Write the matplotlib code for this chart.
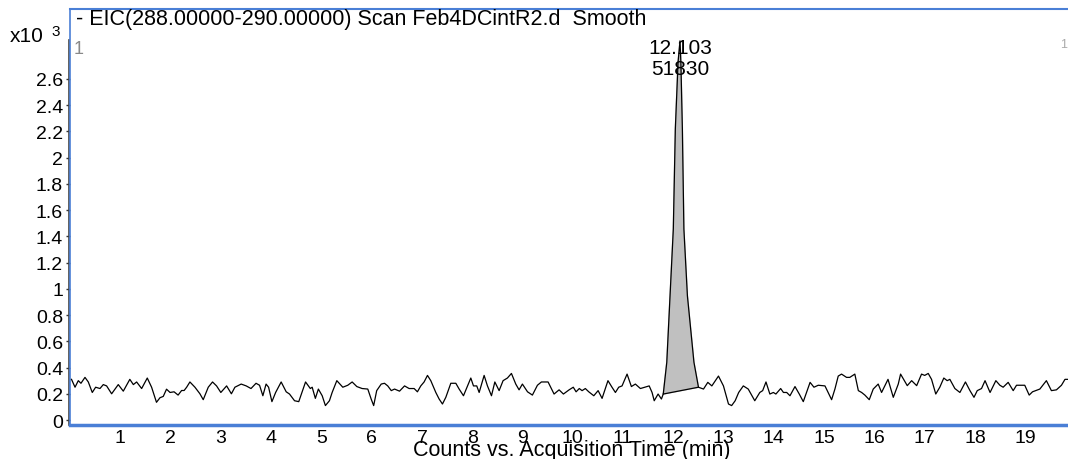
import matplotlib.pyplot as plt
import matplotlib.transforms as mtransforms

plt.rcParams["font.family"] = ["Liberation Sans", "DejaVu Sans"]

# baseline noise before the peak (minutes, counts x10^3)
left_t = [0.03, 0.10, 0.165, 0.218, 0.298, 0.364, 0.443, 0.51, 0.596, 0.662, 0.728, 0.828,
          0.96, 1.06, 1.19, 1.26, 1.325, 1.425, 1.537, 1.623, 1.72, 1.79, 1.855, 1.92, 1.99,
          2.07, 2.15, 2.22, 2.27, 2.32, 2.385, 2.485, 2.584, 2.65, 2.75, 2.835, 2.915, 3.0,
          3.115, 3.21, 3.28, 3.405, 3.505, 3.60, 3.70, 3.77, 3.836, 3.90, 3.95, 4.016, 4.09,
          4.20, 4.30, 4.366, 4.466, 4.55, 4.685, 4.78, 4.817, 4.88, 4.94, 5.016, 5.08, 5.16,
          5.214, 5.307, 5.426, 5.525, 5.612, 5.705, 5.81, 5.923, 5.99, 6.04, 6.10, 6.19, 6.255,
          6.32, 6.39, 6.455, 6.554, 6.654, 6.745, 6.845, 6.91, 6.977, 7.043, 7.11, 7.176, 7.276,
          7.342, 7.408, 7.475, 7.574, 7.674, 7.74, 7.826, 7.906, 7.972, 8.025, 8.09, 8.138,
          8.237, 8.303, 8.383, 8.45, 8.535, 8.614, 8.70, 8.78, 8.866, 8.932, 8.998, 9.10, 9.197,
          9.297, 9.376, 9.509, 9.628, 9.728, 9.814, 9.927, 10.01, 10.066, 10.13, 10.185, 10.25,
          10.318, 10.418, 10.504, 10.583, 10.70, 10.78, 10.848, 10.914, 10.98, 11.08, 11.166,
          11.245, 11.345, 11.43, 11.52, 11.577, 11.62, 11.697, 11.763, 11.80]
left_v = [0.31, 0.25, 0.30, 0.28, 0.325, 0.29, 0.21, 0.25, 0.24, 0.27, 0.26, 0.20,
          0.27, 0.22, 0.31, 0.27, 0.29, 0.24, 0.32, 0.25, 0.135, 0.17, 0.18, 0.235, 0.21,
          0.215, 0.19, 0.225, 0.225, 0.25, 0.29, 0.25, 0.20, 0.155, 0.25, 0.29, 0.26, 0.21,
          0.26, 0.20, 0.25, 0.274, 0.26, 0.24, 0.28, 0.265, 0.185, 0.274, 0.25, 0.14, 0.21,
          0.29, 0.215, 0.198, 0.147, 0.14, 0.29, 0.24, 0.25, 0.165, 0.236, 0.185, 0.11, 0.147,
          0.21, 0.30, 0.25, 0.265, 0.29, 0.255, 0.24, 0.236, 0.16, 0.11, 0.224, 0.274, 0.28,
          0.26, 0.224, 0.236, 0.22, 0.26, 0.24, 0.24, 0.215, 0.26, 0.29, 0.34, 0.30, 0.21,
          0.16, 0.122, 0.173, 0.28, 0.28, 0.236, 0.185, 0.26, 0.32, 0.26, 0.26, 0.21,
          0.34, 0.26, 0.185, 0.29, 0.224, 0.30, 0.32, 0.355, 0.274, 0.23, 0.274, 0.215, 0.19,
          0.265, 0.29, 0.29, 0.198, 0.23, 0.198, 0.23, 0.25, 0.215, 0.24, 0.224, 0.24,
          0.215, 0.185, 0.224, 0.165, 0.30, 0.25, 0.21, 0.25, 0.26, 0.35, 0.255,
          0.274, 0.24, 0.25, 0.26, 0.21, 0.147, 0.198, 0.16, 0.198]

# integrated peak at 12.103 min
peak_t = [11.80, 11.87, 11.935, 12.0, 12.04, 12.094, 12.133, 12.15, 12.18, 12.21, 12.28, 12.41, 12.50]
peak_v = [0.198, 0.44, 0.947, 1.456, 2.218, 2.726, 2.89, 2.726, 2.218, 1.456, 0.947, 0.44, 0.25]

# baseline noise after the peak
right_t = [12.50, 12.60, 12.686, 12.766, 12.898, 12.997, 13.097, 13.16, 13.23, 13.30, 13.392,
           13.49, 13.62, 13.72, 13.777, 13.843, 13.92, 13.99, 14.04, 14.135, 14.19, 14.255,
           14.32, 14.42, 14.505, 14.585, 14.72, 14.797, 14.883, 15.016, 15.08, 15.148, 15.214,
           15.28, 15.346, 15.445, 15.51, 15.61, 15.68, 15.745, 15.81, 15.897, 15.976, 16.075,
           16.142, 16.27, 16.375, 16.474, 16.52, 16.653, 16.74, 16.84, 16.937, 17.0, 17.07,
           17.136, 17.22, 17.30, 17.38, 17.447, 17.50, 17.60, 17.70, 17.81, 17.90, 17.98,
           18.045, 18.13, 18.20, 18.30, 18.415, 18.495, 18.56, 18.66, 18.76, 18.826, 18.99,
           19.078, 19.144, 19.29, 19.42, 19.52, 19.62, 19.72, 19.79, 19.85]
right_v = [0.25, 0.236, 0.287, 0.26, 0.335, 0.26, 0.122, 0.11, 0.147, 0.21, 0.26,
           0.236, 0.147, 0.21, 0.224, 0.29, 0.198, 0.21, 0.198, 0.24, 0.21, 0.21,
           0.185, 0.255, 0.198, 0.14, 0.287, 0.25, 0.265, 0.26, 0.21, 0.155, 0.236,
           0.335, 0.35, 0.325, 0.325, 0.35, 0.224, 0.21, 0.19, 0.155, 0.236, 0.274,
           0.21, 0.31, 0.173, 0.274, 0.35, 0.262, 0.30, 0.262, 0.35, 0.34, 0.355,
           0.31, 0.198, 0.25, 0.32, 0.30, 0.31, 0.24, 0.21, 0.29, 0.224, 0.173,
           0.224, 0.24, 0.30, 0.21, 0.30, 0.265, 0.25, 0.287, 0.224, 0.265, 0.265,
           0.19, 0.215, 0.236, 0.30, 0.224, 0.23, 0.265, 0.31, 0.31]

y_ticks = [0, 0.2, 0.4, 0.6, 0.8, 1, 1.2, 1.4, 1.6, 1.8, 2, 2.2, 2.4, 2.6]
x_ticks = list(range(1, 20))

blue = "#4a7fd6"

fig = plt.figure(figsize=(10.68, 4.60), dpi=100)
ax = fig.add_axes([70 / 1068, 1 - 426 / 460, 1 - 70 / 1068, 416 / 460])

# peak area fill, then trace
ax.fill(peak_t + [peak_t[0]], peak_v + [peak_v[0]], color="#c0c0c0", zorder=1)
ax.plot([peak_t[0], peak_t[-1]], [peak_v[0], peak_v[-1]], color="black", lw=0.9, zorder=2)
ax.plot(left_t + peak_t[1:] + right_t[1:], left_v + peak_v[1:] + right_v[1:],
        color="black", lw=0.9, zorder=3)

ax.text(12.13, 2.84, "12.103", ha="center", va="center", fontsize=15)
ax.text(12.13, 2.68, "51830", ha="center", va="center", fontsize=15)
ax.text(0.08, 2.83, "1", ha="left", va="center", fontsize=13, color="#888888")
ax.text(0.999, 2.87, "1", ha="right", va="center", fontsize=9, color="#aaaaaa",
        transform=mtransforms.blended_transform_factory(ax.transAxes, ax.transData))

ax.set_xlim(0, 19.85)
ax.set_ylim(-0.038, 3.133)
ax.set_xticks(x_ticks)
ax.set_xticklabels([str(v) for v in x_ticks])
ax.set_yticks(y_ticks)
ax.set_yticklabels(["%g" % v for v in y_ticks])
ax.tick_params(axis="x", length=0, pad=3, labelsize=14)
ax.tick_params(axis="y", length=3, width=1, pad=2, labelsize=14, color="#333333")

ax.spines["right"].set_visible(False)
ax.spines["top"].set_color(blue)
ax.spines["top"].set_linewidth(1.5)
ax.spines["bottom"].set_color(blue)
ax.spines["bottom"].set_linewidth(2.5)
ax.spines["left"].set_color(blue)
ax.spines["left"].set_linewidth(1.2)

# dark y-axis line next to the blue frame
trans = mtransforms.blended_transform_factory(ax.transAxes, ax.transData)
ax.plot([-0.0015, -0.0015], [-0.038, 2.9], color="#444444", lw=1.2,
        transform=trans, clip_on=False)

fig.text(76 / 1068, 1 - 20 / 460, "- EIC(288.00000-290.00000) Scan Feb4DCintR2.d  Smooth",
         ha="left", va="center", fontsize=15.5)
fig.text(10 / 1068, 1 - 37 / 460, "x10", ha="left", va="center", fontsize=15)
fig.text(51 / 1068, 1 - 32 / 460, "3", ha="left", va="center", fontsize=11)
fig.text(572 / 1068, 1 - 451 / 460, "Counts vs. Acquisition Time (min)",
         ha="center", va="center", fontsize=15.5)

fig.savefig("out.png", dpi=100)
